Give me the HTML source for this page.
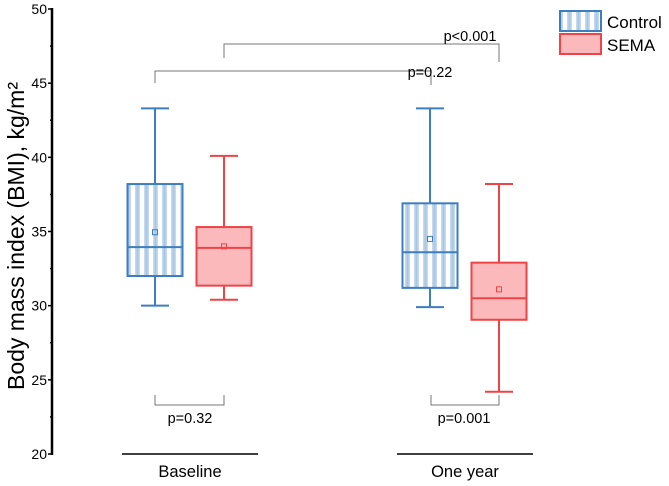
<!DOCTYPE html>
<html><head><meta charset="utf-8"><style>body{margin:0;background:#fff}svg{display:block;font-family:"Liberation Sans",Arial,sans-serif}</style></head><body>
<svg id="c" width="669" height="486" viewBox="0 0 669 486">
<defs>
<pattern id="stripes" width="9" height="4" patternUnits="userSpaceOnUse">
<rect width="9" height="4" fill="#ffffff"/><rect x="0" width="5" height="4" fill="#c5d9ee"/><rect x="1.5" width="2" height="4" fill="#a9c6e6"/>
</pattern>
</defs>
<g id="axis"></g>
<g id="marks"></g>
<text transform="translate(24,236) rotate(-90)" text-anchor="middle" font-size="23" fill="#000">Body mass index (BMI), kg/m²</text>
<g>
<rect x="560" y="11" width="41" height="20" fill="url(#stripes)" stroke="#3d7ebf" stroke-width="2"/>
<text x="607" y="28" font-size="17">Control</text>
<rect x="560" y="34" width="41" height="20" fill="#fbb9bb" stroke="#ee4447" stroke-width="2"/>
<text x="607" y="51" font-size="17">SEMA</text>
</g>
<g stroke="#777" stroke-width="1" fill="none">
<path d="M224,58V44H499V62"/>
<path d="M155,83V71H431V85"/>
<path d="M155,395V405H224V395"/>
<path d="M431,395V405H499V395"/>
</g>
<g font-size="14.5" text-anchor="middle" fill="#000">
<text x="470" y="41">p&lt;0.001</text>
<text x="430" y="77">p=0.22</text>
<text x="190" y="423">p=0.32</text>
<text x="464" y="423">p=0.001</text>
</g>
<g stroke="#000" stroke-width="1.5">
<line x1="122" y1="454" x2="258" y2="454"/>
<line x1="397" y1="454" x2="533" y2="454"/>
</g>
<text x="190" y="477" font-size="16.5" text-anchor="middle">Baseline</text>
<text x="465" y="477" font-size="16.5" text-anchor="middle">One year</text>
</svg>
<script>
const groups=["Baseline","One year"];
const series=["Control","SEMA"];
const mins=[[30.0,30.4],[29.9,24.2]];
const q1s=[[32.0,31.35],[31.2,29.05]];
const medians=[[33.95,33.9],[33.6,30.5]];
const q3s=[[38.2,35.3],[36.9,32.9]];
const maxs=[[43.3,40.1],[43.3,38.2]];
const means=[[34.95,34.0],[34.5,31.1]];
const yTicks=[20,25,30,35,40,45,50];
const NS="http://www.w3.org/2000/svg";
const y=v=>9+(50-v)*(445/30);
const AX=52;
const groupX=[190,465], offset=[-35,34];
const ax=document.getElementById('axis'), mk=document.getElementById('marks');
function el(p,t,a){const e=document.createElementNS(NS,t);for(const k in a)e.setAttribute(k,a[k]);p.appendChild(e);return e;}
const axl=el(ax,'line',{x1:AX,y1:y(50)-1,x2:AX,y2:y(20)+1,stroke:'#000','stroke-width':2.5});


for(let v=20;v<=50;v+=2.5){const major=v%5===0;const t=el(ax,'line',{x1:AX,x2:major?AX-4:AX-2,y1:y(v),y2:y(v),stroke:'#000','stroke-width':1.5});

}
yTicks.forEach(v=>{const t=el(ax,'text',{x:AX-5,y:y(v)+5,'text-anchor':'end','font-size':14});t.textContent=v;

});
const styles=[{stroke:'#3d7ebf',fill:'url(#stripes)'},{stroke:'#ee4447',fill:'#fbb9bb'}];
groups.forEach((g,gi)=>series.forEach((s,si)=>{
 const cx=groupX[gi]+offset[si], st=styles[si], w=55, cw=28;
 const grp=el(mk,'g',{stroke:st.stroke,'stroke-width':2,fill:'none'});
 
 
 el(grp,'line',{x1:cx,x2:cx,y1:y(maxs[gi][si]),y2:y(q3s[gi][si])});
 el(grp,'line',{x1:cx,x2:cx,y1:y(q1s[gi][si]),y2:y(mins[gi][si])});
 el(grp,'line',{x1:cx-cw/2,x2:cx+cw/2,y1:y(maxs[gi][si]),y2:y(maxs[gi][si])});
 el(grp,'line',{x1:cx-cw/2,x2:cx+cw/2,y1:y(mins[gi][si]),y2:y(mins[gi][si])});
 el(grp,'rect',{x:cx-w/2,y:y(q3s[gi][si]),width:w,height:y(q1s[gi][si])-y(q3s[gi][si]),fill:st.fill});
 el(grp,'line',{x1:cx-w/2,x2:cx+w/2,y1:y(medians[gi][si]),y2:y(medians[gi][si])});
 el(grp,'rect',{x:cx-2.5,y:y(means[gi][si])-2.5,width:5,height:5,'stroke-width':1});
}));
</script>
</body></html>
